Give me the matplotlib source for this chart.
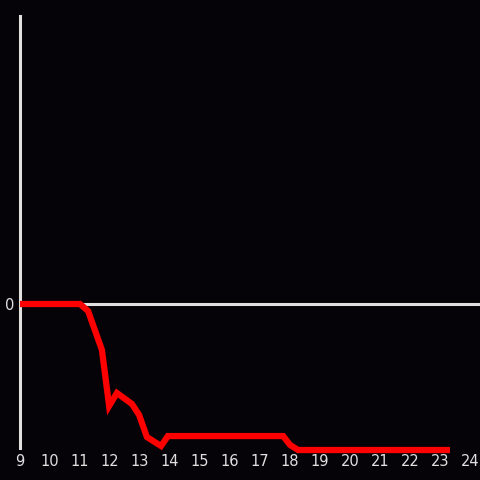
import matplotlib
matplotlib.use('Agg')
import matplotlib.pyplot as plt

hours = [9, 11, 11.27, 11.73, 11.97, 12.23, 12.73, 12.97, 13.23, 13.7, 13.93,
         17.77, 18, 18.27, 23.33]
values = [0, 0, -0.049, -0.319, -0.708, -0.618, -0.694, -0.771, -0.924, -0.986,
          -0.917, -0.917, -0.979, -1.014, -1.014]
xticks = list(range(9, 25))

bg = '#050307'
fg = '#e0e0e0'

fig = plt.figure(figsize=(4.8, 4.8), dpi=100, facecolor=bg)
ax = fig.add_axes([20 / 480, 32 / 480, 460 / 480, 432 / 480], facecolor=bg)

ax.axhline(0, color=fg, lw=2.2, zorder=1)
ax.plot(hours, values, color='#ff0000', lw=4.5, solid_joinstyle='miter',
        solid_capstyle='butt', clip_on=False, zorder=3)

ax.set_xlim(9, 24.33)
ax.set_ylim(-1, 2)
ax.set_xticks(xticks)
ax.set_xticklabels([str(t) for t in xticks])
ax.set_yticks([0])
ax.set_yticklabels(['0'])
ax.tick_params(colors=fg, length=0, labelsize=10.5, pad=4)
ax.tick_params(axis='x', pad=4)

for side in ['top', 'right', 'bottom']:
    ax.spines[side].set_visible(False)
ax.spines['left'].set_color(fg)
ax.spines['left'].set_linewidth(2.2)

fig.savefig('out.png', facecolor=bg)
